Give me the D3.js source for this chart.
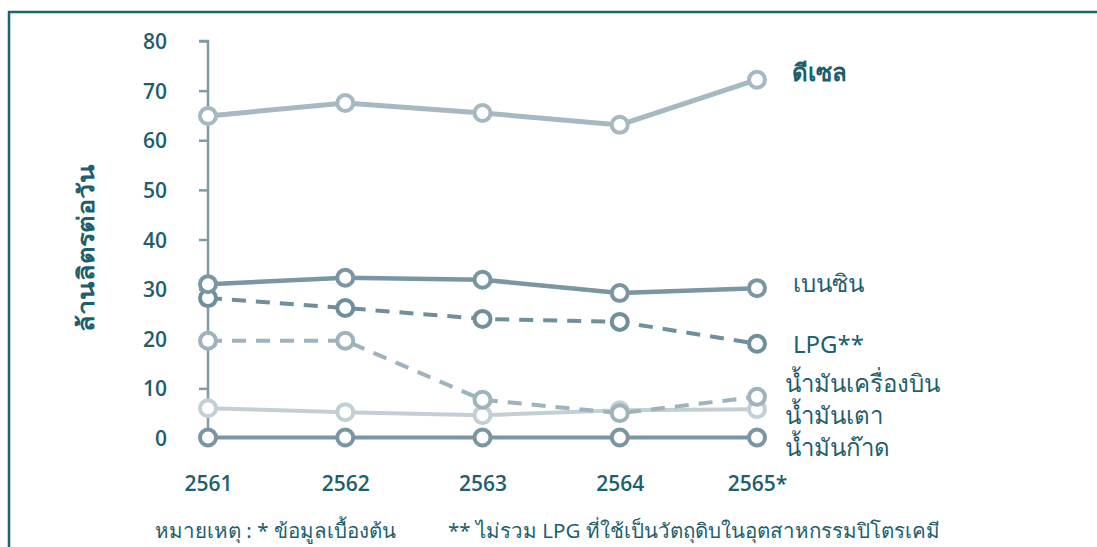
<!DOCTYPE html>
<html><head><meta charset="utf-8">
<script src="https://cdn.jsdelivr.net/npm/d3@7"></script>
<style>
html,body{margin:0;padding:0;background:#fff;}
svg{display:block;}
</style></head>
<body>
<svg id="chart" width="1097" height="547"></svg>
<script>
const years = ["2561","2562","2563","2564","2565*"];
const yTicks = [0,10,20,30,40,50,60,70,80];
const seriesNames = ["ดีเซล","เบนซิน","LPG**","น้ำมันเครื่องบิน","น้ำมันเตา","น้ำมันก๊าด"];
const diesel   = [64.9, 67.5, 65.5, 63.1, 72.2];
const benzin   = [31.0, 32.3, 31.9, 29.2, 30.2];
const lpg      = [28.2, 26.2, 24.0, 23.4, 19.0];
const jetFuel  = [19.6, 19.6, 7.7, 5.0, 8.3];
const fuelOil  = [6.0, 5.2, 4.6, 5.6, 5.8];
const kerosene = [0.1, 0.1, 0.1, 0.1, 0.1];
const yTitle = "ล้านลิตรต่อวัน";
const note1 = "หมายเหตุ : * ข้อมูลเบื้องต้น";
const note2 = "** ไม่รวม LPG ที่ใช้เป็นวัตถุดิบในอุตสาหกรรมปิโตรเคมี";

const textColor = "#1d5f6d";
const svg = d3.select("#chart");

// frame
svg.append("path").attr("d","M9,547 L9,12 L1097,12")
  .attr("fill","none").attr("stroke","#1a6573").attr("stroke-width",2.5);

const x = d3.scalePoint().domain(years).range([208,757]);
const y = d3.scaleLinear().domain([0,80]).range([438,41]);

const numFont = "'Open Sans', 'Noto Sans', sans-serif";
const thaiFont = "'Noto Sans', sans-serif";

// y axis
const yAxis = d3.axisLeft(y).tickValues(yTicks).tickSize(9).tickSizeOuter(0).tickPadding(32);
const gy = svg.append("g").attr("transform","translate(208,0)").call(yAxis);
gy.select(".domain").attr("stroke","#7f9ba8").attr("stroke-width",2.5)
  .attr("d", `M-9,${y(80)}H0V${y(0)}`);
gy.selectAll(".tick line").attr("stroke","#7f9ba8").attr("stroke-width",2.5);
gy.selectAll(".tick text").attr("fill",textColor)
  .style("font-family",numFont).style("font-size","21px").style("font-weight","600")
  .attr("dy","0.36em");

// x labels
const xAxis = d3.axisBottom(x).tickSize(0).tickPadding(0);
const gx = svg.append("g").attr("transform","translate(0,476)").call(xAxis);
gx.select(".domain").remove();
gx.selectAll(".tick text").attr("fill",textColor)
  .style("font-family",numFont).style("font-size","21px").style("font-weight","600");

// y title
svg.append("text").attr("transform","translate(94,248) rotate(-90)")
  .attr("text-anchor","middle").attr("fill",textColor)
  .attr("textLength",167).attr("lengthAdjust","spacingAndGlyphs")
  .style("font-family",thaiFont).style("font-size","23px").style("font-weight","bold")
  .text(yTitle);

const series = [
  {name:seriesNames[5], vals:kerosene, color:"#7a96a3", dash:null, w:4, ly:448, lx:785, bold:false},
  {name:seriesNames[4], vals:fuelOil, color:"#c3cfd5", dash:null, w:4, ly:416, lx:785, bold:false},
  {name:seriesNames[3], vals:jetFuel, color:"#9fb3bd", dash:"14,10", w:4, ly:384, lx:785, bold:false},
  {name:seriesNames[2], vals:lpg, color:"#6f8f9c", dash:"14,10", w:4, ly:345, lx:793, bold:false},
  {name:seriesNames[1], vals:benzin, color:"#7a96a3", dash:null, w:4.5, ly:284, lx:793, bold:false},
  {name:seriesNames[0], vals:diesel, color:"#a6b8c1", dash:null, w:5, ly:73, lx:792, bold:true},
];

const line = d3.line().x((d,i)=>x(years[i])).y(d=>y(d));
series.forEach(s=>{
  svg.append("path").datum(s.vals).attr("d",line).attr("fill","none")
    .attr("stroke",s.color).attr("stroke-width",s.w)
    .attr("stroke-dasharray",s.dash);
  svg.selectAll(null).data(s.vals).enter().append("circle")
    .attr("cx",(d,i)=>x(years[i])).attr("cy",d=>y(d)).attr("r",8)
    .attr("fill","#fff").attr("stroke",s.color).attr("stroke-width",4);
});

series.forEach(s=>{
  svg.append("text").attr("x",s.lx).attr("y",s.ly).attr("dy","0.35em")
    .attr("fill",textColor)
    .style("font-family",thaiFont).style("font-size","24px")
    .style("font-weight", s.bold ? "bold" : "normal")
    .text(s.name);
});

svg.append("text").attr("x",155).attr("y",538).attr("fill",textColor)
  .style("font-family",thaiFont).style("font-size","20.5px").text(note1);
svg.append("text").attr("x",448).attr("y",538).attr("fill",textColor)
  .style("font-family",thaiFont).style("font-size","20.5px").text(note2);
</script>
</body></html>
